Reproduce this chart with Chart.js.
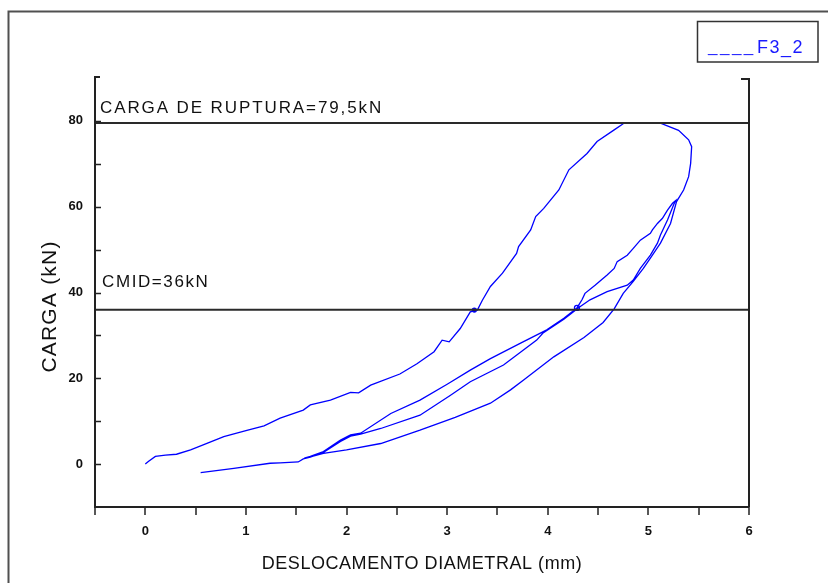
<!DOCTYPE html>
<html>
<head>
<meta charset="utf-8">
<script src="https://cdn.jsdelivr.net/npm/chart.js@4/dist/chart.umd.min.js"></script>
<style>
  html, body { margin: 0; padding: 0; background: #fff; }
  #wrap { position: relative; width: 828px; height: 583px; }
</style>
</head>
<body>
<div id="wrap"><canvas id="c" width="828" height="583"></canvas></div>
<script>
// Ensaio F3_2: carga (kN) x deslocamento diametral (mm)

// Carregamento a partir da origem até a ruptura, e descida pelo lado direito
const rupturaX = [0, 0.03, 0.10, 0.20, 0.31, 0.45, 0.60, 0.78, 1.00, 1.18, 1.34, 1.57, 1.64, 1.84, 2.04, 2.12, 2.24, 2.53, 2.70, 2.87, 2.95, 3.02, 3.13, 3.23, 3.30, 3.35, 3.43, 3.55, 3.69, 3.71, 3.83, 3.88, 3.96, 4.11, 4.21, 4.39, 4.49, 4.66, 4.76, 4.95, 5.12, 5.30, 5.40, 5.43, 5.42, 5.40, 5.35, 5.28];
const rupturaY = [0, 0.6, 1.8, 2.1, 2.3, 3.3, 4.7, 6.4, 7.8, 8.9, 10.7, 12.6, 13.8, 14.9, 16.7, 16.6, 18.4, 21.0, 23.4, 26.2, 28.9, 28.5, 31.6, 35.5, 35.9, 38.2, 41.4, 44.5, 49.1, 50.7, 54.6, 57.7, 59.6, 63.9, 68.6, 72.4, 75.2, 77.9, 79.5, 79.5, 79.5, 77.8, 75.6, 74.0, 70.1, 67.0, 63.9, 61.2];

// Primeira descarga (ramo inferior)
const descarga1X = [5.28, 5.22, 5.12, 5.02, 4.95, 4.85, 4.75, 4.66, 4.55, 4.36, 4.06, 3.76, 3.63, 3.43, 3.08, 2.73, 2.34, 2.00, 1.77, 1.64, 1.58];
const descarga1Y = [61.2, 56.1, 51.5, 48.0, 45.6, 42.6, 39.8, 36.2, 33.0, 29.5, 25.0, 19.6, 17.3, 14.2, 10.9, 7.9, 4.8, 3.3, 2.5, 1.7, 1.4];

// Recarga (ramo superior do ciclo)
const recargaX = [1.58, 1.64, 1.77, 1.94, 2.04, 2.14, 2.44, 2.73, 3.00, 3.23, 3.43, 3.73, 3.99, 4.16, 4.29, 4.34, 4.37, 4.47, 4.59, 4.66, 4.69, 4.79, 4.85, 4.92, 5.02, 5.04, 5.09, 5.14, 5.19, 5.24, 5.27];
const recargaY = [1.4, 1.8, 2.9, 5.6, 6.8, 7.2, 11.8, 14.9, 18.6, 21.9, 24.6, 28.2, 31.3, 34.0, 36.4, 38.3, 39.8, 41.7, 44.1, 45.6, 47.2, 48.7, 50.3, 52.2, 53.8, 54.6, 56.1, 57.3, 59.2, 60.8, 61.4];

// Segunda descarga (ramo intermediário)
const descarga2X = [5.27, 5.25, 5.19, 5.12, 5.09, 5.02, 4.92, 4.85, 4.79, 4.59, 4.42, 4.32, 4.16, 3.95, 3.89, 3.56, 3.23, 3.03, 2.73, 2.34, 2.14, 2.04, 1.94, 1.77, 1.64];
const descarga2Y = [61.4, 60.4, 56.9, 53.4, 51.5, 48.7, 45.6, 42.9, 41.7, 40.2, 38.3, 36.7, 33.8, 30.5, 28.9, 23.1, 19.2, 16.0, 11.4, 8.3, 7.0, 6.5, 5.3, 2.7, 1.6];

// Retorno final
const retornoX = [1.64, 1.57, 1.52, 1.34, 1.24, 0.88, 0.55];
const retornoY = [1.6, 1.2, 0.5, 0.3, 0.2, -1.0, -2.0];

// Pontos marcados sobre a linha de CMID
const marcasX = [3.27, 4.29];
const marcasY = [35.9, 36.4];

// Cargas de referência (kN)
const cargaRuptura = 79.5;
const cargaCMID = 36;

// Eixos
const xLimites = [-0.5, 6];
const yLimites = [-10, 90];
const xTickLabels = ['0', '1', '2', '3', '4', '5', '6'];
const yTickLabels = ['0', '20', '40', '60', '80'];

const pares = (xs, ys) => xs.map((v, i) => ({ x: v, y: ys[i] }));
const serie = [].concat(
  pares(rupturaX, rupturaY),
  pares(descarga1X, descarga1Y),
  pares(recargaX, recargaY),
  pares(descarga2X, descarga2Y),
  pares(retornoX, retornoY)
);

const FONT = '"Liberation Sans", Arial, sans-serif';

function texto(ctx, str, x, y, size, spacing, color, align) {
  ctx.save();
  ctx.font = size + 'px ' + FONT;
  ctx.fillStyle = color;
  ctx.textAlign = align || 'left';
  ctx.textBaseline = 'alphabetic';
  ctx.letterSpacing = spacing + 'px';
  ctx.fillText(str, x, y);
  ctx.restore();
}

const moldura = {
  id: 'moldura',
  beforeDraw(chart) {
    const { ctx, width, height } = chart;
    ctx.save();
    ctx.fillStyle = '#fff';
    ctx.fillRect(0, 0, width, height);
    ctx.restore();
  },
  afterDraw(chart) {
    const { ctx, chartArea: a, scales } = chart;
    const xs = scales.x, ys = scales.y;
    ctx.save();
    // quadro externo
    ctx.strokeStyle = '#505050';
    ctx.lineWidth = 2;
    ctx.beginPath();
    ctx.moveTo(8.5, 583); ctx.lineTo(8.5, 11.5); ctx.lineTo(828, 11.5);
    ctx.stroke();
    // eixos
    ctx.strokeStyle = '#222';
    ctx.lineWidth = 2;
    ctx.beginPath();
    ctx.moveTo(a.left + 5, a.top - 1); ctx.lineTo(a.left, a.top - 1);
    ctx.lineTo(a.left, a.bottom); ctx.lineTo(a.right, a.bottom);
    ctx.moveTo(a.right - 8, a.top + 1); ctx.lineTo(a.right, a.top + 1);
    ctx.lineTo(a.right, a.bottom);
    ctx.stroke();
    // marcas dos eixos
    ctx.lineWidth = 1.5;
    ctx.beginPath();
    xs.ticks.forEach(t => {
      const px = Math.round(xs.getPixelForValue(t.value));
      ctx.moveTo(px, a.bottom); ctx.lineTo(px, a.bottom + 8);
    });
    ys.ticks.forEach(t => {
      if (t.value <= yLimites[0] || t.value >= yLimites[1]) return;
      const py = Math.round(ys.getPixelForValue(t.value)) + 0.5;
      ctx.moveTo(a.left, py); ctx.lineTo(a.left + 6, py);
    });
    ctx.stroke();
    ctx.restore();

    // títulos dos eixos
    texto(ctx, 'DESLOCAMENTO DIAMETRAL (mm)', (a.left + a.right) / 2 + 0, 569, 18, 0.55, '#111', 'center');
    ctx.save();
    ctx.translate(56, (a.top + a.bottom) / 2 + 14);
    ctx.rotate(-Math.PI / 2);
    texto(ctx, 'CARGA (kN)', 0, 0, 21, 1.2, '#111', 'center');
    ctx.restore();

    // rótulos das linhas de referência
    texto(ctx, 'CARGA DE RUPTURA=79,5kN', a.left + 5, ys.getPixelForValue(cargaRuptura) - 10.5, 17, 1.9, '#111');
    texto(ctx, 'CMID=36kN', a.left + 7, ys.getPixelForValue(cargaCMID) - 22.5, 17, 1.6, '#111');

    // legenda
    ctx.save();
    ctx.strokeStyle = '#333';
    ctx.lineWidth = 1.5;
    ctx.strokeRect(697.5, 21.5, 120.5, 40.5);
    ctx.restore();
    texto(ctx, '____', 708, 52, 17, 2.5, '#1a1aff');
    texto(ctx, 'F3_2', 757, 53, 18, 1.5, '#1a1aff');
  }
};

new Chart(document.getElementById('c'), {
  type: 'scatter',
  data: {
    datasets: [
      {
        label: 'CARGA DE RUPTURA',
        data: [{ x: xLimites[0], y: cargaRuptura }, { x: xLimites[1], y: cargaRuptura }],
        showLine: true, borderColor: '#2a2a2a', borderWidth: 2, pointRadius: 0, order: 0
      },
      {
        label: 'CMID',
        data: [{ x: xLimites[0], y: cargaCMID }, { x: xLimites[1], y: cargaCMID }],
        showLine: true, borderColor: '#2a2a2a', borderWidth: 2, pointRadius: 0, order: 0
      },
      {
        label: 'F3_2',
        data: serie,
        showLine: true, borderColor: '#0000ff', borderWidth: 1.3, pointRadius: 0,
        tension: 0, order: 2
      },
      {
        label: 'marcas',
        data: pares(marcasX, marcasY),
        showLine: false, pointRadius: [2, 2.5], pointBorderWidth: 1.3,
        pointBorderColor: '#0000ff', pointBackgroundColor: ['#101070', 'rgba(0,0,0,0)'],
        order: 1
      }
    ]
  },
  options: {
    responsive: false,
    animation: false,
    devicePixelRatio: 1,
    layout: { padding: { top: 78, right: 79, left: 0, bottom: 0 } },
    plugins: { legend: { display: false }, tooltip: { enabled: false } },
    scales: {
      x: {
        type: 'linear', min: xLimites[0], max: xLimites[1],
        grid: { display: false }, border: { display: false },
        afterFit: s => { s.height = 76; },
        ticks: {
          stepSize: 0.5, padding: 9, color: '#111', maxRotation: 0, autoSkip: false,
          font: { family: FONT, size: 13, weight: 'bold' },
          callback: v => xTickLabels.includes(String(v)) ? String(v) : ''
        }
      },
      y: {
        type: 'linear', min: yLimites[0], max: yLimites[1],
        grid: { display: false }, border: { display: false },
        afterFit: s => { s.width = 95; },
        ticks: {
          stepSize: 10, padding: 4, color: '#111', autoSkip: false,
          font: { family: FONT, size: 13, weight: 'bold' },
          callback: v => yTickLabels.includes(String(v)) ? String(v) : ''
        }
      }
    }
  },
  plugins: [moldura]
});
</script>
</body>
</html>
